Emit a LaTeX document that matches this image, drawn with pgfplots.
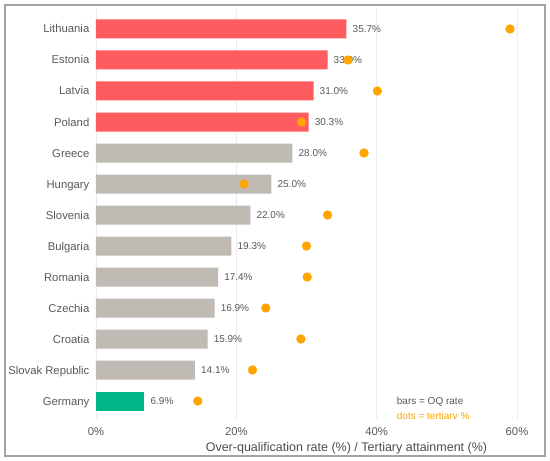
\documentclass[border=0pt]{standalone}
\usepackage{pgfplots}
\pgfplotsset{compat=1.18}
\usepackage{fontspec}
\setmainfont{Liberation Sans}
\definecolor{redbar}{HTML}{FF5C5F}
\definecolor{graybar}{HTML}{BFBAB4}
\definecolor{greenbar}{HTML}{00B887}
\definecolor{dotor}{HTML}{FFA500}
\definecolor{txt}{HTML}{595959}
\definecolor{txtd}{HTML}{4D4D4D}
\definecolor{gridg}{HTML}{EBEBEB}
\definecolor{frameg}{HTML}{A3A3A3}
\begin{document}
\begin{tikzpicture}[x=1pt,y=1pt]
\path[use as bounding box] (0,0) rectangle (550,461);
\fill[white] (0,0) rectangle (550,461);
\draw[frameg, line width=1.2pt] (5,5) rectangle (545,456);
\begin{axis}[
  at={(96pt,42pt)}, anchor=south west,
  scale only axis, width=421pt, height=410pt,
  xmin=0, xmax=60, ymin=-0.58, ymax=12.645,
  axis line style={draw=none},
  major tick length=0pt, tick style={draw=none},
  xtick={0,20,40,60},
  xticklabels={0\%,20\%,40\%,60\%},
  xmajorgrids,
  grid style={gridg, line width=0.6pt},
  ytick={0,1,2,3,4,5,6,7,8,9,10,11,12},
  yticklabels={Germany,Slovak Republic,Croatia,Czechia,Romania,Bulgaria,Slovenia,Hungary,Greece,Poland,Latvia,Estonia,Lithuania},
  yticklabel style={anchor=east, inner sep=0pt, xshift=-6.5pt, text height=8pt, text depth=0pt, font=\fontsize{11.3}{13}\selectfont, text=txt},
  xticklabel style={anchor=center, inner sep=0pt, yshift=-12.7pt, text height=8pt, text depth=0pt, font=\fontsize{11.3}{13}\selectfont, text=txt},
  xlabel={Over-qualification rate (\%) / Tertiary attainment (\%)},
  xlabel style={at={(axis description cs:0.595,0)}, anchor=center, inner sep=0pt, yshift=-28.5pt, text height=9pt, text depth=0pt, font=\fontsize{12.5}{15}\selectfont, text=txtd},
  clip=false,
]
\pgfplotsset{bars/.style={xbar, bar shift=0pt, bar width=19pt, draw=none,
  point meta=x,
  nodes near coords={\pgfmathprintnumber[fixed,fixed zerofill,precision=1,assume math mode=true]{\pgfplotspointmeta}\%},
  every node near coord/.append style={anchor=west, inner sep=0pt, xshift=6pt, text height=7pt, text depth=0pt, font=\fontsize{10}{12}\selectfont, text=txt}}}
\addplot[bars, fill=redbar] coordinates {(35.7,12) (33.0,11) (31.0,10) (30.3,9)};
\addplot[bars, fill=graybar] coordinates {(28.0,8) (25.0,7) (22.0,6) (19.3,5) (17.4,4) (16.9,3) (15.9,2) (14.1,1)};
\addplot[bars, fill=greenbar] coordinates {(6.9,0)};
\addplot[only marks, color=dotor, mark=*, mark size=4.4pt, mark options={solid, fill=dotor, draw=dotor}] coordinates {
(59.0,12) (35.9,11) (40.1,10) (29.3,9) (38.2,8) (21.1,7) (33.0,6) (30.0,5) (30.1,4) (24.2,3) (29.2,2) (22.3,1) (14.5,0)};
\end{axis}
\begin{scope}
\clip (0,42) rectangle (550,461);
\node[anchor=west, inner sep=0pt, font=\fontsize{10}{12}\selectfont, text=txt] at (396.7,59.3) {bars = OQ rate};
\node[anchor=west, inner sep=0pt, font=\fontsize{10}{12}\selectfont, text=dotor] at (396.7,44.3) {dots = tertiary \%};
\end{scope}
\end{tikzpicture}
\end{document}
